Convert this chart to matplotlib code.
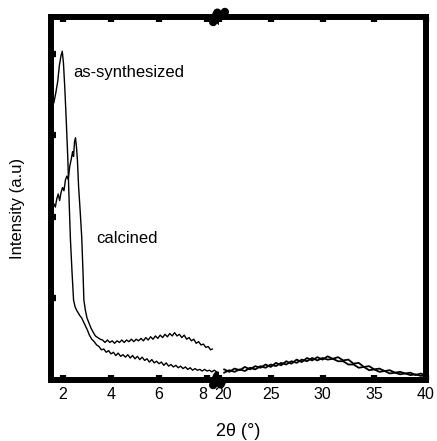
import numpy as np
import matplotlib
matplotlib.use("Agg")
import matplotlib.pyplot as plt
import matplotlib.transforms as mtransforms

plt.rcParams['font.family'] = ['Liberation Sans', 'DejaVu Sans']

# low-angle region (2theta 1.5 - 8.5)
as_x_low = [1.62, 1.70, 1.78, 1.85, 1.92, 1.97, 2.02, 2.08, 2.14, 2.20, 2.26, 2.31, 2.38, 2.44,
            2.50, 2.56, 2.62, 2.70, 2.78, 2.86, 2.94, 3.02, 3.10, 3.20, 3.30, 3.40, 3.50, 3.60,
            3.70, 3.80, 3.90, 4.00, 4.10, 4.20, 4.30, 4.40, 4.50, 4.60, 4.70, 4.80, 4.90, 5.00,
            5.10, 5.20, 5.30, 5.40, 5.50, 5.60, 5.70, 5.80, 5.90, 6.00, 6.10, 6.20, 6.30, 6.40,
            6.50, 6.60, 6.70, 6.80, 6.90, 7.00, 7.10, 7.20, 7.30, 7.40, 7.50, 7.60, 7.70, 7.80,
            7.90, 8.00, 8.10, 8.20, 8.30, 8.40]
as_y_low = [3.40, 3.52, 3.66, 3.86, 3.98, 4.03, 3.88, 3.55, 3.15, 2.72, 2.15, 1.72, 1.30, 0.98,
            0.90, 0.86, 0.83, 0.79, 0.76, 0.71, 0.66, 0.61, 0.55, 0.50, 0.47, 0.43, 0.41, 0.37,
            0.38, 0.34, 0.36, 0.32, 0.34, 0.30, 0.33, 0.29, 0.31, 0.28, 0.31, 0.27, 0.30, 0.26,
            0.29, 0.25, 0.28, 0.24, 0.26, 0.22, 0.25, 0.21, 0.23, 0.20, 0.22, 0.18, 0.21, 0.17,
            0.19, 0.16, 0.18, 0.15, 0.17, 0.14, 0.16, 0.13, 0.15, 0.12, 0.14, 0.12, 0.13, 0.11,
            0.13, 0.11, 0.12, 0.10, 0.12, 0.10]

cal_x_low = [1.55, 1.62, 1.68, 1.74, 1.80, 1.86, 1.92, 1.98, 2.04, 2.10, 2.16, 2.22, 2.28, 2.34,
             2.40, 2.44, 2.48, 2.52, 2.56, 2.60, 2.65, 2.72, 2.78, 2.83, 2.87, 2.93, 3.00, 3.08,
             3.16, 3.25, 3.35, 3.45, 3.55, 3.65, 3.75, 3.85, 3.95, 4.05, 4.15, 4.25, 4.35, 4.45,
             4.55, 4.65, 4.75, 4.85, 4.95, 5.05, 5.15, 5.25, 5.35, 5.45, 5.55, 5.65, 5.75, 5.85,
             5.95, 6.05, 6.15, 6.25, 6.35, 6.45, 6.55, 6.65, 6.75, 6.85, 6.95, 7.05, 7.15, 7.25,
             7.35, 7.45, 7.55, 7.65, 7.75, 7.85, 7.95, 8.05, 8.15, 8.22]
cal_y_low = [2.08, 2.16, 2.12, 2.22, 2.28, 2.20, 2.30, 2.36, 2.32, 2.45, 2.50, 2.46, 2.62, 2.70,
             2.80, 2.74, 2.92, 2.97, 2.86, 2.70, 2.37, 2.05, 1.75, 1.35, 0.98, 0.86, 0.76, 0.70,
             0.64, 0.59, 0.54, 0.52, 0.50, 0.49, 0.46, 0.49, 0.46, 0.48, 0.45, 0.48, 0.46, 0.49,
             0.46, 0.49, 0.47, 0.50, 0.47, 0.50, 0.48, 0.51, 0.48, 0.52, 0.49, 0.53, 0.50, 0.54,
             0.51, 0.55, 0.52, 0.56, 0.53, 0.57, 0.54, 0.58, 0.54, 0.56, 0.52, 0.55, 0.50, 0.52,
             0.48, 0.50, 0.45, 0.47, 0.43, 0.44, 0.40, 0.41, 0.37, 0.38]

# wide-angle region (2theta 20 - 40)
x_high = [20.5, 21.0, 21.5, 22.0, 22.5, 23.0, 23.5, 24.0, 24.5, 25.0, 25.5, 26.0, 26.5, 27.0,
          27.5, 28.0, 28.5, 29.0, 29.5, 30.0, 30.5, 31.0, 31.5, 32.0, 32.5, 33.0, 33.5, 34.0,
          34.5, 35.0, 35.5, 36.0, 36.5, 37.0, 37.5, 38.0, 38.5, 39.0, 39.5, 40.0]
as_y_high = [0.13, 0.10, 0.14, 0.12, 0.16, 0.13, 0.17, 0.15, 0.19, 0.16, 0.21, 0.18, 0.23, 0.20,
             0.25, 0.22, 0.27, 0.24, 0.28, 0.25, 0.29, 0.26, 0.28, 0.24, 0.25, 0.20, 0.21, 0.16,
             0.17, 0.13, 0.14, 0.11, 0.12, 0.09, 0.10, 0.08, 0.09, 0.06, 0.08, 0.05]
cal_y_high = [0.09, 0.12, 0.10, 0.13, 0.11, 0.15, 0.13, 0.17, 0.15, 0.19, 0.17, 0.21, 0.19, 0.23,
              0.21, 0.25, 0.23, 0.27, 0.24, 0.27, 0.25, 0.26, 0.23, 0.23, 0.19, 0.19, 0.15, 0.16,
              0.12, 0.13, 0.10, 0.11, 0.08, 0.09, 0.07, 0.08, 0.06, 0.07, 0.05, 0.06]

fig = plt.figure(figsize=(4.37, 4.41), dpi=100)
ax1 = fig.add_axes([51/437, 61/441, 168/437, 363/441])
ax2 = fig.add_axes([219/437, 61/441, 207/437, 363/441])

for ax in (ax1, ax2):
    ax.set_ylim(0, 4.45)
    ax.set_yticks([1, 2, 3, 4])
    ax.set_yticklabels([])
    for s in ax.spines.values():
        s.set_linewidth(4.3)
        s.set_capstyle('projecting')
    ax.tick_params(direction='in', length=3.5, width=4.5, top=True, labelsize=11.5, pad=5)

ax1.plot(as_x_low, as_y_low, color='black', lw=1.0)
ax1.plot(cal_x_low, cal_y_low, color='black', lw=1.0)
ax1.set_xlim(1.5, 8.5)
ax1.set_xticks([2, 4, 6, 8])
ax1.spines['right'].set_visible(False)

ax2.plot(x_high, as_y_high, color='black', lw=1.3)
ax2.plot(x_high, cal_y_high, color='black', lw=1.3)
ax2.set_xlim(20, 40)
ax2.set_xticks([20, 25, 30, 35, 40])
ax2.spines['left'].set_visible(False)
ax2.tick_params(left=False)

# nudge the two labels that meet at the break
lab8 = ax1.get_xticklabels()[-1]
lab8.set_transform(lab8.get_transform() + mtransforms.ScaledTranslation(-3/72, 0, fig.dpi_scale_trans))
lab20 = ax2.get_xticklabels()[0]
lab20.set_transform(lab20.get_transform() + mtransforms.ScaledTranslation(3/72, 0, fig.dpi_scale_trans))

# axis break marks
for yy in (0, 1):
    ax1.plot([0.965, 0.99, 1.01, 1.035], [yy - 0.014, yy + 0.012, yy - 0.012, yy + 0.014],
             transform=ax1.transAxes, color='black', lw=6, clip_on=False,
             solid_capstyle='round', solid_joinstyle='round')

ax1.text(2.42, 3.77, 'as-synthesized', fontsize=12, va='center')
ax1.text(3.39, 1.74, 'calcined', fontsize=12, va='center')

fig.text(238/437, 1 - 432/441, '2\u03b8 (\u00b0)', fontsize=13, ha='center', va='center')
fig.text(18/437, 1 - 208/441, 'Intensity (a.u)', fontsize=12, ha='center', va='center',
         rotation=90)

fig.savefig('out.png', dpi=100)
